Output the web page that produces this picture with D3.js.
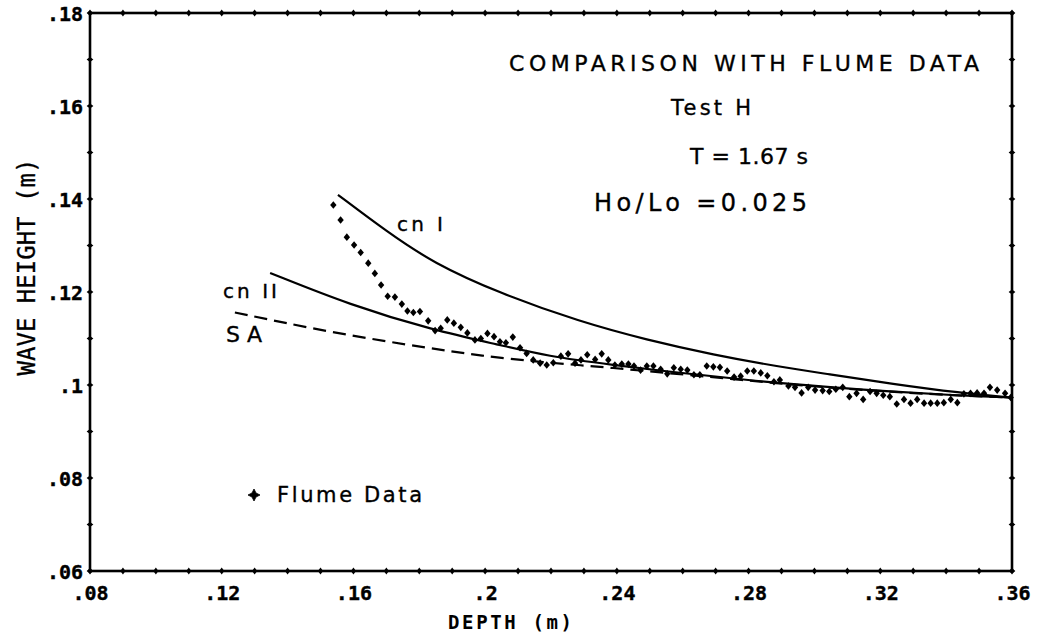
<!DOCTYPE html>
<html>
<head>
<meta charset="utf-8">
<script src="https://cdn.jsdelivr.net/npm/d3@7"></script>
<style>
  html, body { margin: 0; padding: 0; background: #fff; }
  svg { display: block; }
</style>
</head>
<body>
<svg id="chart" width="1042" height="637"></svg>
<script>
// ---------- data ----------
const xTickValues = [0.08, 0.12, 0.16, 0.20, 0.24, 0.28, 0.32, 0.36];
const xTickLabels = [".08", ".12", ".16", ".2", ".24", ".28", ".32", ".36"];
const yTickValues = [0.06, 0.08, 0.10, 0.12, 0.14, 0.16, 0.18];
const yTickLabels = [".06", ".08", ".1", ".12", ".14", ".16", ".18"];

// theory curves (depth m, wave height m)
const cn1Depth  = [0.1553, 0.1701, 0.1843, 0.2045, 0.2288, 0.2491, 0.2693, 0.2895, 0.3037, 0.3239, 0.3442, 0.3600];
const cn1Height = [0.1409, 0.1330, 0.1262, 0.1197, 0.1136, 0.1097, 0.1065, 0.1039, 0.1024, 0.1002, 0.0983, 0.0973];

const cn2Depth  = [0.1347, 0.1590, 0.1842, 0.2045, 0.2188, 0.2388, 0.2592, 0.2795, 0.2895, 0.3138, 0.3442, 0.3600];
const cn2Height = [0.1241, 0.1172, 0.1118, 0.1086, 0.1062, 0.1043, 0.1026, 0.1011, 0.1004, 0.0990, 0.0977, 0.0973];

const saDepth  = [0.1240, 0.1538, 0.1823, 0.1984, 0.2188, 0.2388, 0.2592, 0.2795, 0.2895, 0.3138, 0.3442, 0.3600];
const saHeight = [0.1156, 0.1112, 0.1080, 0.1063, 0.1048, 0.1037, 0.1023, 0.1010, 0.1003, 0.0989, 0.0977, 0.0973];

// flume data
const flumeDepth = [
  0.1539, 0.1561, 0.1580, 0.1602, 0.1622, 0.1645, 0.1665, 0.1684, 0.1704, 0.1726,
  0.1747, 0.1764, 0.1782, 0.1802, 0.1827, 0.1848, 0.1865, 0.1885, 0.1905, 0.1926,
  0.1946, 0.1969, 0.1987, 0.2007, 0.2027, 0.2045, 0.2063, 0.2084, 0.2106, 0.2126,
  0.2146, 0.2167, 0.2187, 0.2207, 0.2230, 0.2252, 0.2273, 0.2291, 0.2310, 0.2334,
  0.2354, 0.2374, 0.2394, 0.2415, 0.2435, 0.2452, 0.2472, 0.2491, 0.2511, 0.2533,
  0.2553, 0.2573, 0.2594, 0.2614, 0.2634, 0.2652, 0.2673, 0.2693, 0.2713, 0.2735,
  0.2756, 0.2776, 0.2796, 0.2816, 0.2837, 0.2857, 0.2877, 0.2895, 0.2921, 0.2941,
  0.2961, 0.2981, 0.3002, 0.3025, 0.3045, 0.3065, 0.3086, 0.3106, 0.3128, 0.3148,
  0.3169, 0.3189, 0.3209, 0.3229, 0.3250, 0.3272, 0.3292, 0.3312, 0.3333, 0.3353,
  0.3373, 0.3393, 0.3414, 0.3434, 0.3454, 0.3474, 0.3494, 0.3515, 0.3533, 0.3555,
  0.3579, 0.3596
];
const flumeHeight = [
  0.1387, 0.1355, 0.1318, 0.1301, 0.1285, 0.1262, 0.1240, 0.1215, 0.1191, 0.1189,
  0.1174, 0.1159, 0.1156, 0.1158, 0.1138, 0.1117, 0.1122, 0.1140, 0.1133, 0.1124,
  0.1112, 0.1097, 0.1100, 0.1111, 0.1104, 0.1093, 0.1091, 0.1103, 0.1080, 0.1068,
  0.1054, 0.1047, 0.1043, 0.1048, 0.1062, 0.1067, 0.1047, 0.1054, 0.1065, 0.1055,
  0.1067, 0.1054, 0.1043, 0.1045, 0.1045, 0.1041, 0.1032, 0.1041, 0.1041, 0.1034,
  0.1024, 0.1037, 0.1034, 0.1032, 0.1022, 0.1022, 0.1041, 0.1039, 0.1038, 0.1030,
  0.1017, 0.1019, 0.1030, 0.1030, 0.1026, 0.1020, 0.1007, 0.1011, 0.0998, 0.0995,
  0.0983, 0.0995, 0.0989, 0.0988, 0.0986, 0.0991, 0.0995, 0.0975, 0.0982, 0.0969,
  0.0986, 0.0982, 0.0978, 0.0975, 0.0959, 0.0969, 0.0961, 0.0969, 0.0961, 0.0961,
  0.0961, 0.0962, 0.0969, 0.0962, 0.0981, 0.0982, 0.0983, 0.0982, 0.0995, 0.0989,
  0.0982, 0.0973
];

const titleLines = ["COMPARISON WITH FLUME DATA", "Test H", "T = 1.67 s", "Ho/Lo =0.025"];

// ---------- drawing ----------
const svg = d3.select("#chart");
svg.append("rect").attr("width", 1042).attr("height", 637).attr("fill", "#fff");

const x = d3.scaleLinear().domain([0.08, 0.36]).range([90, 1012]);
const y = d3.scaleLinear().domain([0.06, 0.18]).range([571, 13]);

const ink = "#000";
const monoFont = "'DejaVu Sans Mono', monospace";
const sansFont = "'DejaVu Sans', 'Liberation Sans', sans-serif";

// frame
svg.append("rect")
  .attr("x", x(0.08)).attr("y", y(0.18))
  .attr("width", x(0.36) - x(0.08)).attr("height", y(0.06) - y(0.18))
  .attr("fill", "none").attr("stroke", ink).attr("stroke-width", 2.6);

// tick diamonds every 0.01 on all four sides
const xMinor = d3.range(0.08, 0.3601, 0.01);
const yMinor = d3.range(0.06, 0.1801, 0.01);
const tickDiamond = "M0,-3.4L2.6,0L0,3.4L-2.6,0Z";
const tickDiamondH = "M-3.4,0L0,2.6L3.4,0L0,-2.6Z";
const tickG = svg.append("g");
[y(0.06), y(0.18)].forEach(py => {
  tickG.selectAll(null).data(xMinor).enter().append("path")
    .attr("d", tickDiamond).attr("fill", ink)
    .attr("transform", d => `translate(${x(d)},${py})`);
});
[x(0.08), x(0.36)].forEach(px => {
  tickG.selectAll(null).data(yMinor).enter().append("path")
    .attr("d", tickDiamondH).attr("fill", ink)
    .attr("transform", d => `translate(${px},${y(d)})`);
});

// axes labels via d3 axes
const xAxis = d3.axisBottom(x).tickValues(xTickValues)
  .tickFormat((d, i) => xTickLabels[i]).tickSize(0).tickPadding(0);
const gx = svg.append("g").attr("transform", `translate(0,${y(0.06)})`).call(xAxis);
gx.select(".domain").remove();
gx.selectAll("text")
  .attr("y", 29).attr("dy", null)
  .attr("font-family", monoFont).attr("font-weight", "bold").attr("font-size", 20)
  .attr("fill", ink).attr("stroke", ink).attr("stroke-width", 0.4);

const yAxis = d3.axisLeft(y).tickValues(yTickValues)
  .tickFormat((d, i) => yTickLabels[i]).tickSize(0).tickPadding(0);
const gy = svg.append("g").attr("transform", `translate(${x(0.08)},0)`).call(yAxis);
gy.select(".domain").remove();
gy.selectAll("text")
  .attr("x", -7).attr("dy", "0.36em")
  .attr("font-family", monoFont).attr("font-weight", "bold").attr("font-size", 20)
  .attr("fill", ink).attr("stroke", ink).attr("stroke-width", 0.4);

// axis titles
svg.append("text")
  .attr("x", 448).attr("y", 629)
  .attr("font-family", monoFont).attr("font-weight", "bold").attr("font-size", 19)
  .attr("textLength", 124).attr("lengthAdjust", "spacing")
  .attr("fill", ink).text("DEPTH (m)");

svg.append("text")
  .attr("transform", "translate(35,267) rotate(-90)")
  .attr("text-anchor", "middle")
  .attr("font-family", monoFont).attr("font-size", 24)
  .attr("fill", ink).attr("stroke", ink).attr("stroke-width", 0.3)
  .text("WAVE HEIGHT (m)");

// curves
const line = d3.line().x(d => x(d[0])).y(d => y(d[1])).curve(d3.curveBasis);
const zip = (a, b) => a.map((v, i) => [v, b[i]]);

svg.append("path").datum(zip(cn1Depth, cn1Height))
  .attr("d", line).attr("fill", "none").attr("stroke", ink).attr("stroke-width", 2.2);
svg.append("path").datum(zip(cn2Depth, cn2Height))
  .attr("d", line).attr("fill", "none").attr("stroke", ink).attr("stroke-width", 2.2);
svg.append("path").datum(zip(saDepth, saHeight))
  .attr("d", line).attr("fill", "none").attr("stroke", ink).attr("stroke-width", 2.2)
  .attr("stroke-dasharray", "13,7");

// flume points
const dataDiamond = "M0,-3.8L3.2,0L0,3.8L-3.2,0Z";
svg.append("g").selectAll("path").data(zip(flumeDepth, flumeHeight)).enter().append("path")
  .attr("d", dataDiamond).attr("fill", ink)
  .attr("transform", d => `translate(${x(d[0])},${y(d[1])})`);

// annotation helper
const annot = (tx, ty, t, len, size) => svg.append("text")
  .attr("x", tx).attr("y", ty)
  .attr("font-family", sansFont).attr("font-size", size).attr("fill", ink)
  .attr("stroke", ink).attr("stroke-width", 0.35)
  .attr("textLength", len).attr("lengthAdjust", "spacing").text(t);

// curve labels
annot(397, 231, "cn I", 46, 20);
annot(223, 298, "cn II", 54, 20);
annot(226, 342, "SA", 36, 22);

// legend
svg.append("path").attr("d", "M0,-6L2,-2L6,0L2,2L0,6L-2,2L-6,0L-2,-2Z")
  .attr("fill", ink).attr("stroke", ink).attr("stroke-width", 0.8)
  .attr("transform", "translate(254,495)");
annot(277, 502, "Flume Data", 145, 21);

// title block
annot(509, 71, titleLines[0], 470, 22);
annot(671, 115, titleLines[1], 80, 21);
annot(690, 164, titleLines[2], 118, 22);
annot(594, 211, titleLines[3], 213, 24);
</script>
</body>
</html>
